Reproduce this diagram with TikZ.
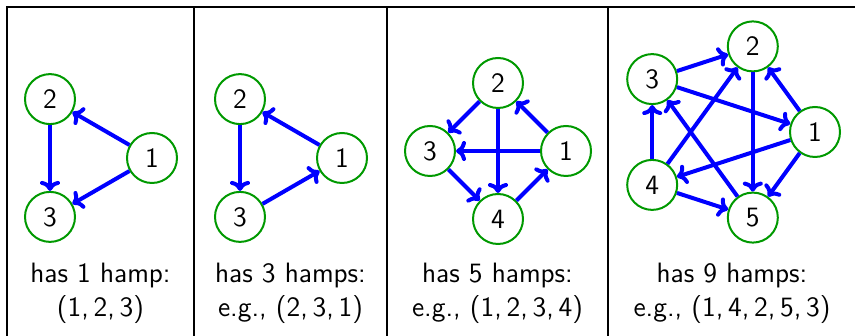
\documentclass[tikz,border=0pt]{standalone}
\usetikzlibrary{arrows.meta}

\tikzset{
  vert/.style={circle, draw=green!60!black, line width=1pt, minimum size=25pt, inner sep=0pt},
  darc/.style={draw=blue, line width=2pt, -{To[length=5pt,width=10pt]}},
  capt/.style={align=center, anchor=base},
}

\begin{document}
\begin{tikzpicture}[x=5pt,y=5pt,font=\sffamily\fontsize{14}{17}\selectfont]

    \useasboundingbox (0,0) rectangle (85.5,33.6);

    % Table
    \draw[line width=0.6pt] (85.5,32.9) -- (0.7,32.9) -- (0.7,0);
    \draw[line width=0.6pt] (19.4,32.9) -- (19.4,0);
    \draw[line width=0.6pt] (38.7,32.9) -- (38.7,0);
    \draw[line width=0.6pt] (60.8,32.9) -- (60.8,0);

    % Tournament on 3 vertices, one hamp
    \begin{scope}[shift={(8.4,17.8)}]
    \node[vert] (a1) at (0:6.8) {1};
    \node[vert] (a2) at (120:6.8) {2};
    \node[vert] (a3) at (240:6.8) {3};
    \end{scope}
    \draw[darc] (a1) -- (a2);
    \draw[darc] (a1) -- (a3);
    \draw[darc] (a2) -- (a3);

    % Tournament on 3 vertices, cyclic
    \begin{scope}[shift={(27.4,17.8)}]
    \node[vert] (b1) at (0:6.8) {1};
    \node[vert] (b2) at (120:6.8) {2};
    \node[vert] (b3) at (240:6.8) {3};
    \end{scope}
    \draw[darc] (b1) -- (b2);
    \draw[darc] (b2) -- (b3);
    \draw[darc] (b3) -- (b1);

    % Tournament on 4 vertices
    \begin{scope}[shift={(49.8,18.5)}]
    \node[vert] (c1) at (0:6.8) {1};
    \node[vert] (c2) at (90:6.8) {2};
    \node[vert] (c3) at (180:6.8) {3};
    \node[vert] (c4) at (270:6.8) {4};
    \end{scope}
    \draw[darc] (c1) -- (c2);
    \draw[darc] (c2) -- (c3);
    \draw[darc] (c1) -- (c3);
    \draw[darc] (c2) -- (c4);
    \draw[darc] (c3) -- (c4);
    \draw[darc] (c4) -- (c1);

    % Tournament on 5 vertices
    \begin{scope}[shift={(72.5,20.4)}]
    \node[vert] (d1) at (0:9) {1};
    \node[vert] (d2) at (72:9) {2};
    \node[vert] (d3) at (144:9) {3};
    \node[vert] (d4) at (216:9) {4};
    \node[vert] (d5) at (288:9) {5};
    \end{scope}
    \draw[darc] (d3) -- (d2);
    \draw[darc] (d1) -- (d2);
    \draw[darc] (d4) -- (d2);
    \draw[darc] (d2) -- (d5);
    \draw[darc] (d3) -- (d1);
    \draw[darc] (d1) -- (d4);
    \draw[darc] (d1) -- (d5);
    \draw[darc] (d4) -- (d3);
    \draw[darc] (d5) -- (d3);
    \draw[darc] (d4) -- (d5);

    % Labels
    \node[capt] (capa) at (10.05,1.9) {has 1 hamp:\\ (1,\,2,\,3)};
    \node[capt] (capb) at (29.05,1.9) {has 3 hamps:\\ e.g., (2,\,3,\,1)};
    \node[capt] (capc) at (49.75,1.9) {has 5 hamps:\\ e.g., (1,\,2,\,3,\,4)};
    \node[capt] (capd) at (73.2,1.9) {has 9 hamps:\\ e.g., (1,\,4,\,2,\,5,\,3)};

\end{tikzpicture}
\end{document}
